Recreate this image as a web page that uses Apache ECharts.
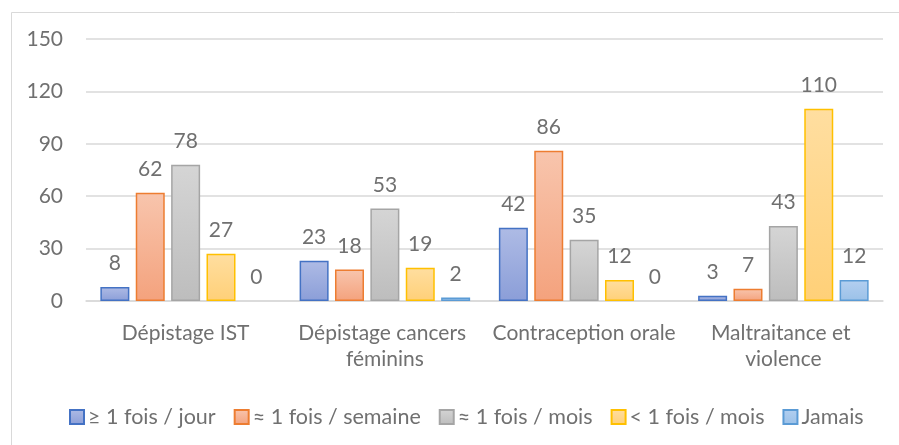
<!DOCTYPE html>
<html>
<head>
<meta charset="utf-8">
<script src="https://cdn.jsdelivr.net/npm/echarts@6/dist/echarts.min.js"></script>
<style>
html,body{margin:0;padding:0;background:#fff;}
#c{width:899px;height:445px;}
</style>
</head>
<body>
<div id="c"></div>
<script>
var categories = ['Dépistage IST', 'Dépistage cancers féminins', 'Contraception orale', 'Maltraitance et violence'];
var seriesNames = ['≥ 1 fois / jour', '≈ 1 fois / semaine', '≈ 1 fois / mois', '< 1 fois / mois', 'Jamais'];
var dailyValues = [8, 23, 42, 3];
var weeklyValues = [62, 18, 86, 7];
var monthlyValues = [78, 53, 35, 43];
var lessMonthlyValues = [27, 19, 12, 110];
var neverValues = [0, 2, 0, 12];
var yTicks = [0, 30, 60, 90, 120, 150];

var valueSets = [dailyValues, weeklyValues, monthlyValues, lessMonthlyValues, neverValues];
var styles = [
  {border: '#4472c4', top: '#aebbe5', bottom: '#8b9ed8'},
  {border: '#ed7d31', top: '#f8c5ad', bottom: '#f4a27d'},
  {border: '#a5a5a5', top: '#d5d5d5', bottom: '#bdbdbd'},
  {border: '#ffc000', top: '#ffdea0', bottom: '#ffd078'},
  {border: '#5b9bd5', top: '#b3cff0', bottom: '#9bc1e8'}
];
var FONT = 'Lato';
var TXT = '#707070';

var series = valueSets.map(function (vals, i) {
  var s = styles[i];
  return {
    name: seriesNames[i],
    type: 'bar',
    barWidth: 29,
    barGap: '22%',
    data: vals.map(function (v) {
      return v === 0 ? {value: v, itemStyle: {borderWidth: 0}} : v;
    }),
    itemStyle: {
      color: new echarts.graphic.LinearGradient(0, 0, 0, 1, [
        {offset: 0, color: s.top},
        {offset: 1, color: s.bottom}
      ]),
      borderColor: s.border,
      borderWidth: 1.5
    },
    label: {
      show: true,
      position: 'top',
      distance: 13,
      color: TXT,
      fontFamily: FONT,
      fontSize: 21
    }
  };
});

var chart = echarts.init(document.getElementById('c'), null, {renderer: 'canvas'});
chart.setOption({
  animation: false,
  backgroundColor: '#fff',
  graphic: [{
    type: 'rect',
    left: 9, top: 10,
    shape: {width: 900, height: 450},
    style: {fill: 'none', stroke: '#d9d9d9', lineWidth: 1},
    silent: true, z: -1
  }],
  grid: {left: 86, right: 16, top: 39, bottom: 144, containLabel: false},
  legend: {
    left: 69, top: 406,
    padding: 0,
    itemWidth: 14, itemHeight: 14,
    itemGap: 18,
    icon: 'rect',
    textStyle: {color: TXT, fontFamily: FONT, fontSize: 21.5, padding: [0, 0, 0, -1]},
    data: seriesNames
  },
  xAxis: {
    type: 'category',
    data: categories,
    axisLine: {lineStyle: {color: '#d9d9d9', width: 1.5}},
    axisTick: {show: false},
    axisLabel: {
      color: TXT, fontFamily: FONT, fontSize: 21,
      margin: 19, lineHeight: 26,
      width: 195, overflow: 'break', interval: 0
    }
  },
  yAxis: {
    type: 'value',
    min: yTicks[0], max: yTicks[yTicks.length - 1], interval: 30,
    axisLine: {show: false},
    axisTick: {show: false},
    splitLine: {lineStyle: {color: '#d9d9d9', width: 1.5}},
    axisLabel: {color: TXT, fontFamily: FONT, fontSize: 21, margin: 23}
  },
  series: series
});
</script>
</body>
</html>
